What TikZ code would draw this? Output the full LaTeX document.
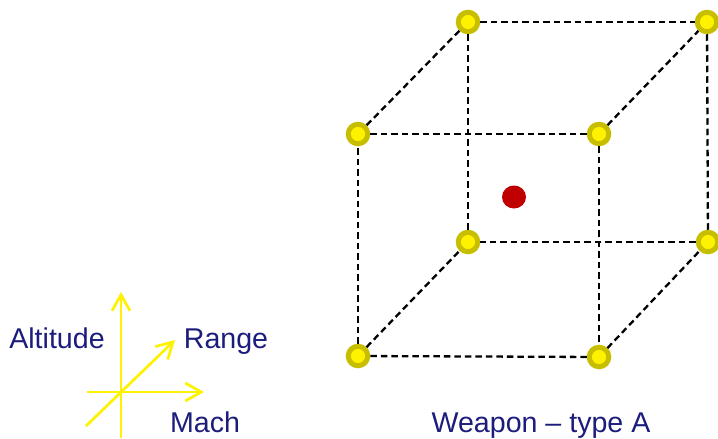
\documentclass[tikz,border=0pt]{standalone}
\usepackage{fontspec}
\setmainfont{Liberation Sans}
\usetikzlibrary{arrows.meta, shapes.geometric}
\definecolor{labelnavy}{HTML}{1C1C7C}
\definecolor{ringolive}{HTML}{C8BE00}
\definecolor{dotred}{HTML}{C00000}

\tikzset{
  vertex/.style={circle, fill=yellow, draw=ringolive, line width=5pt, minimum size=19.5pt, inner sep=0pt},
  edge/.style={dashed, dash pattern=on 6.5pt off 4pt, line width=2.3pt, black},
  axis/.style={yellow, line width=2.7pt, -{Straight Barb[length=16pt, width=18pt]}},
  lbl/.style={text=labelnavy, font=\fontsize{28.6}{32}\selectfont, anchor=base, inner sep=0pt}
}

\begin{document}
\begin{tikzpicture}[x=1pt, y=-1pt]
  \useasboundingbox (0,0) rectangle (718,439);
  % axes
  \coordinate (ax-up) at (121,292);
  \coordinate (ax-down) at (121,438);
  \coordinate (ax-left) at (87,392);
  \coordinate (ax-right) at (204,392);
  \coordinate (ax-sw) at (86,426);
  \coordinate (ax-ne) at (175,340);
  \draw[axis] (ax-down) -- (ax-up);
  \draw[axis] (ax-left) -- (ax-right);
  \draw[axis] (ax-sw) -- (ax-ne);
  \node[lbl] (alt) at (57,348) {Altitude};
  \node[lbl] (rng) at (226,348) {Range};
  \node[lbl] (mach) at (205,432) {Mach};
  % cube corners
  \node[vertex] (ftl) at (358,134) {};
  \node[vertex] (ftr) at (599,134) {};
  \node[vertex] (fbl) at (358,356) {};
  \node[vertex] (fbr) at (599,357) {};
  \node[vertex] (btl) at (468,22) {};
  \node[vertex] (btr) at (707,22) {};
  \node[vertex] (bbl) at (468,242) {};
  \node[vertex] (bbr) at (708,242) {};
  % cube edges
  \draw[edge] (ftl) -- (ftr);
  \draw[edge] (ftr) -- (fbr);
  \draw[edge] (fbr) -- (fbl);
  \draw[edge] (fbl) -- (ftl);
  \draw[edge] (btl) -- (btr);
  \draw[edge] (btr) -- (bbr);
  \draw[edge] (bbr) -- (bbl);
  \draw[edge] (bbl) -- (btl);
  \draw[edge] (ftl) -- (btl);
  \draw[edge] (ftr) -- (btr);
  \draw[edge] (fbl) -- (bbl);
  \draw[edge] (fbr) -- (bbr);
  % sample point
  \node[ellipse, fill=dotred, minimum width=24pt, minimum height=23pt, inner sep=0pt] (pt) at (514,197) {};
  \node[lbl] (title) at (541,432) {Weapon -- type A};
\end{tikzpicture}
\end{document}
